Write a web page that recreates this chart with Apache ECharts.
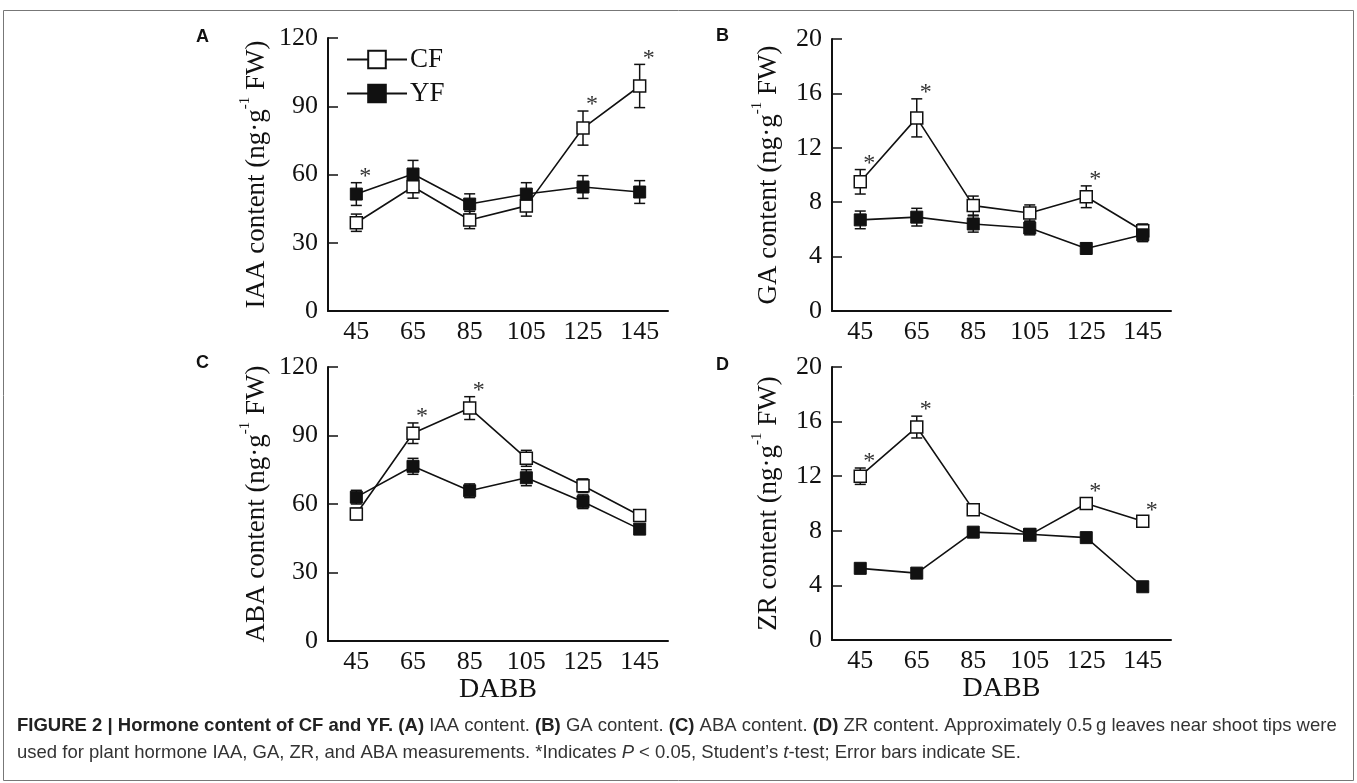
<!DOCTYPE html>
<html>
<head>
<meta charset="utf-8">
<script src="https://cdn.jsdelivr.net/npm/echarts@6/dist/echarts.min.js"></script>
<style>
html,body{margin:0;padding:0;background:#fff;}
#chart{width:1357px;height:783px;}
</style>
</head>
<body>
<div id="chart"></div>
<script>
const categories = ['45', '65', '85', '105', '125', '145'];

const IAA_CF = [38.8, 54.6, 40.0, 46.2, 80.4, 98.9];
const IAA_CF_SE = [3.8, 5.0, 3.8, 4.5, 7.5, 9.5];
const IAA_YF = [51.4, 60.2, 47.0, 51.4, 54.5, 52.3];
const IAA_YF_SE = [5.0, 6.0, 4.5, 5.0, 5.0, 5.0];
const IAA_SIG = [1, 0, 0, 0, 1, 1];

const GA_CF = [9.5, 14.2, 7.75, 7.2, 8.4, 5.9];
const GA_CF_SE = [0.9, 1.4, 0.7, 0.6, 0.8, 0.5];
const GA_YF = [6.7, 6.9, 6.4, 6.1, 4.6, 5.6];
const GA_YF_SE = [0.65, 0.65, 0.6, 0.5, 0.4, 0.5];
const GA_SIG = [1, 1, 0, 0, 1, 0];

const ABA_CF = [55.6, 91.0, 102.0, 80.0, 68.0, 55.0];
const ABA_CF_SE = [2.5, 4.5, 5.0, 3.5, 3.0, 2.0];
const ABA_YF = [63.0, 76.5, 65.8, 71.5, 61.0, 49.0];
const ABA_YF_SE = [3.0, 3.5, 3.0, 3.5, 3.0, 2.0];
const ABA_SIG = [0, 1, 1, 0, 0, 0];

const ZR_CF = [12.0, 15.6, 9.55, 7.7, 10.0, 8.7];
const ZR_CF_SE = [0.6, 0.8, 0.4, 0.2, 0.4, 0.3];
const ZR_YF = [5.25, 4.9, 7.9, 7.75, 7.5, 3.9];
const ZR_YF_SE = [0.2, 0.2, 0.2, 0.2, 0.2, 0.2];
const ZR_SIG = [1, 1, 0, 0, 1, 1];

const Y_TICKS_120 = { min: 0, max: 120, interval: 30 };
const Y_TICKS_20 = { min: 0, max: 20, interval: 4 };

const SERIF = 'Liberation Serif';
const SANS = 'Liberation Sans';

const panels = [
  { name: 'IAA', cf: IAA_CF, cfse: IAA_CF_SE, yf: IAA_YF, yfse: IAA_YF_SE, sig: IAA_SIG, ticks: Y_TICKS_120,
    grid: { left: 328, top: 38, width: 340, height: 273 }, nameGap: 58, xname: '' },
  { name: 'GA', cf: GA_CF, cfse: GA_CF_SE, yf: GA_YF, yfse: GA_YF_SE, sig: GA_SIG, ticks: Y_TICKS_20,
    grid: { left: 832, top: 39, width: 339, height: 272 }, nameGap: 50, xname: '' },
  { name: 'ABA', cf: ABA_CF, cfse: ABA_CF_SE, yf: ABA_YF, yfse: ABA_YF_SE, sig: ABA_SIG, ticks: Y_TICKS_120,
    grid: { left: 328, top: 367, width: 340, height: 274 }, nameGap: 58, xname: 'DABB' },
  { name: 'ZR', cf: ZR_CF, cfse: ZR_CF_SE, yf: ZR_YF, yfse: ZR_YF_SE, sig: ZR_SIG, ticks: Y_TICKS_20,
    grid: { left: 832, top: 367, width: 339, height: 273 }, nameGap: 50, xname: 'DABB' }
];

function errRenderItem(params, api) {
  const x = api.value(0);
  const top = api.coord([x, api.value(1)]);
  const bot = api.coord([x, api.value(2)]);
  const w = 5.5;
  const st = { stroke: '#111', lineWidth: 1.5 };
  return {
    type: 'group',
    children: [
      { type: 'line', shape: { x1: top[0], y1: top[1], x2: bot[0], y2: bot[1] }, style: st },
      { type: 'line', shape: { x1: top[0] - w, y1: top[1], x2: top[0] + w, y2: top[1] }, style: st },
      { type: 'line', shape: { x1: bot[0] - w, y1: bot[1], x2: bot[0] + w, y2: bot[1] }, style: st }
    ]
  };
}

function starRenderItem(params, api) {
  const pt = api.coord([api.value(0), api.value(1)]);
  return {
    type: 'text',
    style: {
      text: '*', x: pt[0] + 9, y: pt[1] - 6,
      font: '24px "Liberation Serif"', fill: '#333',
      align: 'center', verticalAlign: 'middle'
    }
  };
}

const grids = [], xAxes = [], yAxes = [], series = [];
panels.forEach((p, k) => {
  grids.push(p.grid);
  xAxes.push({
    type: 'category', gridIndex: k, data: categories, boundaryGap: true,
    axisLine: { lineStyle: { color: '#111', width: 2 } },
    axisTick: { inside: true, alignWithLabel: true, length: 10, lineStyle: { color: '#111', width: 1.5 } },
    axisLabel: { fontFamily: SERIF, fontSize: 26, color: '#111', margin: 8 },
    name: p.xname, nameLocation: 'middle', nameGap: 30,
    nameTextStyle: { fontFamily: SERIF, fontSize: 28, color: '#111', verticalAlign: 'top' },
    splitLine: { show: false }
  });
  yAxes.push({
    type: 'value', gridIndex: k, min: p.ticks.min, max: p.ticks.max, interval: p.ticks.interval,
    axisLine: { show: true, lineStyle: { color: '#111', width: 2 } },
    axisTick: { show: true, inside: true, length: 10, lineStyle: { color: '#111', width: 1.5 } },
    axisLabel: { fontFamily: SERIF, fontSize: 26, color: '#111', margin: 10 },
    splitLine: { show: false },
    name: '{n|' + p.name + ' content (ng·g}{s|-1}{n| FW)}',
    nameLocation: 'middle', nameRotate: 90, nameGap: p.nameGap,
    nameTextStyle: {
      rich: {
        n: { fontFamily: SERIF, fontSize: 27, color: '#111', lineHeight: 32, verticalAlign: 'bottom' },
        s: { fontFamily: SERIF, fontSize: 15, color: '#111', lineHeight: 32, verticalAlign: 'top' }
      }
    }
  });
  series.push({
    type: 'custom', xAxisIndex: k, yAxisIndex: k, renderItem: errRenderItem, z: 1, silent: true,
    data: categories.map((c, i) => [i, p.cf[i] + p.cfse[i], p.cf[i] - p.cfse[i]])
  });
  series.push({
    type: 'custom', xAxisIndex: k, yAxisIndex: k, renderItem: errRenderItem, z: 1, silent: true,
    data: categories.map((c, i) => [i, p.yf[i] + p.yfse[i], p.yf[i] - p.yfse[i]])
  });
  series.push({
    name: 'CF', type: 'line', xAxisIndex: k, yAxisIndex: k, data: p.cf, z: 3,
    symbol: 'rect', symbolSize: 12, showAllSymbol: true,
    lineStyle: { color: '#111', width: 1.6 },
    itemStyle: { color: '#fff', borderColor: '#111', borderWidth: 1.5 },
    emphasis: { disabled: true }
  });
  series.push({
    name: 'YF', type: 'line', xAxisIndex: k, yAxisIndex: k, data: p.yf, z: 4,
    symbol: 'rect', symbolSize: 12, showAllSymbol: true,
    lineStyle: { color: '#111', width: 1.6 },
    itemStyle: { color: '#111', borderColor: '#111', borderWidth: 1 },
    emphasis: { disabled: true }
  });
  series.push({
    type: 'custom', xAxisIndex: k, yAxisIndex: k, renderItem: starRenderItem, z: 5, silent: true,
    data: categories.map((c, i) => p.sig[i] ? [i, Math.max(p.cf[i] + p.cfse[i], p.yf[i] + p.yfse[i])] : null).filter(d => d)
  });
});

const chart = echarts.init(document.getElementById('chart'), null, { renderer: 'canvas' });
chart.setOption({
  backgroundColor: '#fff',
  animation: false,
  grid: grids,
  xAxis: xAxes,
  yAxis: yAxes,
  series: series,
  legend: {
    data: ['CF', 'YF'], orient: 'vertical', left: 341, top: 41, itemGap: 7,
    itemWidth: 60, itemHeight: 22, selectedMode: false,
    textStyle: { fontFamily: SERIF, fontSize: 27, color: '#111', padding: [0, 0, 0, -2] }
  },
  graphic: [
    { type: 'rect', shape: { x: 3.5, y: 10.5, width: 1350, height: 770 }, style: { fill: 'none', stroke: '#777', lineWidth: 1 }, silent: true },
    { type: 'text', left: 196, top: 28, style: { text: 'A', font: 'bold 18px "Liberation Sans"', fill: '#111' } },
    { type: 'text', left: 716, top: 27, style: { text: 'B', font: 'bold 18px "Liberation Sans"', fill: '#111' } },
    { type: 'text', left: 196, top: 354, style: { text: 'C', font: 'bold 18px "Liberation Sans"', fill: '#111' } },
    { type: 'text', left: 716, top: 356, style: { text: 'D', font: 'bold 18px "Liberation Sans"', fill: '#111' } },
    { type: 'text', left: 17, top: 716, style: {
        text: '{b|FIGURE 2 | Hormone content of CF and YF. (A)}{n| IAA content. }{b|(B)}{n| GA content. }{b|(C)}{n| ABA content. }{b|(D)}{n| ZR content. Approximately 0.5\u2009g leaves near shoot tips were}\n{n|used for plant hormone IAA, GA, ZR, and ABA measurements. *Indicates }{i|P}{n| < 0.05, Student\u2019s }{i|t}{n|-test; Error bars indicate SE.}',
        rich: {
          b: { fontFamily: SANS, fontWeight: 'bold', fontSize: 18.5, fill: '#222', lineHeight: 27 },
          n: { fontFamily: SANS, fontSize: 18.5, fill: '#333', lineHeight: 27 },
          i: { fontFamily: SANS, fontStyle: 'italic', fontSize: 18.5, fill: '#333', lineHeight: 27 }
        }
    } }
  ]
});
</script>
</body>
</html>
